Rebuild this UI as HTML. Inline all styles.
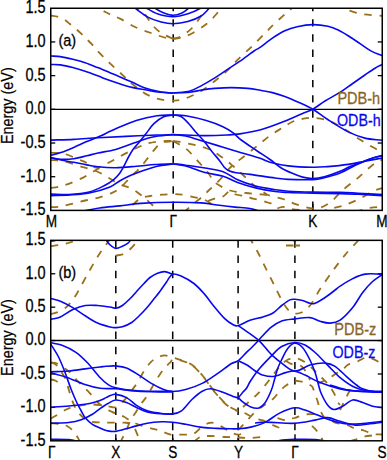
<!DOCTYPE html><html><head><meta charset="utf-8"><style>html,body{margin:0;padding:0;background:#fff;overflow:hidden;}svg{display:block;}text{font-family:"Liberation Sans",sans-serif;}</style></head><body>
<svg width="387" height="460" viewBox="0 0 387 460">
<defs>
<clipPath id="ca"><rect x="50.75" y="8.25" width="331.50" height="202.15"/></clipPath>
<clipPath id="cb"><rect x="50.75" y="240.35" width="331.50" height="200.45"/></clipPath>
</defs>
<line x1="50.75" y1="109.33" x2="382.25" y2="109.33" stroke="#000" stroke-width="1.4"/>
<line x1="50.75" y1="41.94" x2="55.25" y2="41.94" stroke="#000" stroke-width="1.3"/>
<line x1="382.25" y1="41.94" x2="377.75" y2="41.94" stroke="#000" stroke-width="1.3"/>
<line x1="50.75" y1="75.63" x2="55.25" y2="75.63" stroke="#000" stroke-width="1.3"/>
<line x1="382.25" y1="75.63" x2="377.75" y2="75.63" stroke="#000" stroke-width="1.3"/>
<line x1="50.75" y1="109.33" x2="55.25" y2="109.33" stroke="#000" stroke-width="1.3"/>
<line x1="382.25" y1="109.33" x2="377.75" y2="109.33" stroke="#000" stroke-width="1.3"/>
<line x1="50.75" y1="143.02" x2="55.25" y2="143.02" stroke="#000" stroke-width="1.3"/>
<line x1="382.25" y1="143.02" x2="377.75" y2="143.02" stroke="#000" stroke-width="1.3"/>
<line x1="50.75" y1="176.71" x2="55.25" y2="176.71" stroke="#000" stroke-width="1.3"/>
<line x1="382.25" y1="176.71" x2="377.75" y2="176.71" stroke="#000" stroke-width="1.3"/>
<text transform="translate(45.60,13.15) scale(0.785,1)" text-anchor="end" fill="#000" stroke="#000" stroke-width="0.3" font-size="18.5">1.5</text>
<text transform="translate(45.60,46.84) scale(0.785,1)" text-anchor="end" fill="#000" stroke="#000" stroke-width="0.3" font-size="18.5">1.0</text>
<text transform="translate(45.60,80.53) scale(0.785,1)" text-anchor="end" fill="#000" stroke="#000" stroke-width="0.3" font-size="18.5">0.5</text>
<text transform="translate(45.60,114.23) scale(0.785,1)" text-anchor="end" fill="#000" stroke="#000" stroke-width="0.3" font-size="18.5">0.0</text>
<text transform="translate(45.60,147.92) scale(0.785,1)" text-anchor="end" fill="#000" stroke="#000" stroke-width="0.3" font-size="18.5">-0.5</text>
<text transform="translate(45.60,181.61) scale(0.785,1)" text-anchor="end" fill="#000" stroke="#000" stroke-width="0.3" font-size="18.5">-1.0</text>
<text transform="translate(45.60,215.30) scale(0.785,1)" text-anchor="end" fill="#000" stroke="#000" stroke-width="0.3" font-size="18.5">-1.5</text>
<text transform="translate(51.50,227.20) scale(0.8,1)" text-anchor="middle" fill="#000" stroke="#000" stroke-width="0.3" font-size="17">M</text>
<text transform="translate(173.20,227.20) scale(0.8,1)" text-anchor="middle" fill="#000" stroke="#000" stroke-width="0.3" font-size="17">Γ</text>
<text transform="translate(312.80,227.20) scale(0.8,1)" text-anchor="middle" fill="#000" stroke="#000" stroke-width="0.3" font-size="17">K</text>
<text transform="translate(382.00,227.20) scale(0.8,1)" text-anchor="middle" fill="#000" stroke="#000" stroke-width="0.3" font-size="17">M</text>
<line x1="173.2" y1="210.4" x2="173.2" y2="203.9" stroke="#000" stroke-width="1.4"/>
<line x1="312.8" y1="210.4" x2="312.8" y2="203.9" stroke="#000" stroke-width="1.4"/>
<line x1="50.75" y1="340.57" x2="382.25" y2="340.57" stroke="#000" stroke-width="1.4"/>
<line x1="50.75" y1="273.76" x2="55.25" y2="273.76" stroke="#000" stroke-width="1.3"/>
<line x1="382.25" y1="273.76" x2="377.75" y2="273.76" stroke="#000" stroke-width="1.3"/>
<line x1="50.75" y1="307.17" x2="55.25" y2="307.17" stroke="#000" stroke-width="1.3"/>
<line x1="382.25" y1="307.17" x2="377.75" y2="307.17" stroke="#000" stroke-width="1.3"/>
<line x1="50.75" y1="340.57" x2="55.25" y2="340.57" stroke="#000" stroke-width="1.3"/>
<line x1="382.25" y1="340.57" x2="377.75" y2="340.57" stroke="#000" stroke-width="1.3"/>
<line x1="50.75" y1="373.98" x2="55.25" y2="373.98" stroke="#000" stroke-width="1.3"/>
<line x1="382.25" y1="373.98" x2="377.75" y2="373.98" stroke="#000" stroke-width="1.3"/>
<line x1="50.75" y1="407.39" x2="55.25" y2="407.39" stroke="#000" stroke-width="1.3"/>
<line x1="382.25" y1="407.39" x2="377.75" y2="407.39" stroke="#000" stroke-width="1.3"/>
<text transform="translate(45.60,245.25) scale(0.785,1)" text-anchor="end" fill="#000" stroke="#000" stroke-width="0.3" font-size="18.5">1.5</text>
<text transform="translate(45.60,278.66) scale(0.785,1)" text-anchor="end" fill="#000" stroke="#000" stroke-width="0.3" font-size="18.5">1.0</text>
<text transform="translate(45.60,312.07) scale(0.785,1)" text-anchor="end" fill="#000" stroke="#000" stroke-width="0.3" font-size="18.5">0.5</text>
<text transform="translate(45.60,345.47) scale(0.785,1)" text-anchor="end" fill="#000" stroke="#000" stroke-width="0.3" font-size="18.5">0.0</text>
<text transform="translate(45.60,378.88) scale(0.785,1)" text-anchor="end" fill="#000" stroke="#000" stroke-width="0.3" font-size="18.5">-0.5</text>
<text transform="translate(45.60,412.29) scale(0.785,1)" text-anchor="end" fill="#000" stroke="#000" stroke-width="0.3" font-size="18.5">-1.0</text>
<text transform="translate(45.60,445.70) scale(0.785,1)" text-anchor="end" fill="#000" stroke="#000" stroke-width="0.3" font-size="18.5">-1.5</text>
<text transform="translate(51.80,457.60) scale(0.8,1)" text-anchor="middle" fill="#000" stroke="#000" stroke-width="0.3" font-size="17">Γ</text>
<text transform="translate(115.80,457.60) scale(0.8,1)" text-anchor="middle" fill="#000" stroke="#000" stroke-width="0.3" font-size="17">X</text>
<text transform="translate(172.70,457.60) scale(0.8,1)" text-anchor="middle" fill="#000" stroke="#000" stroke-width="0.3" font-size="17">S</text>
<text transform="translate(238.50,457.60) scale(0.8,1)" text-anchor="middle" fill="#000" stroke="#000" stroke-width="0.3" font-size="17">Y</text>
<text transform="translate(295.00,457.60) scale(0.8,1)" text-anchor="middle" fill="#000" stroke="#000" stroke-width="0.3" font-size="17">Γ</text>
<text transform="translate(382.00,457.60) scale(0.8,1)" text-anchor="middle" fill="#000" stroke="#000" stroke-width="0.3" font-size="17">S</text>
<line x1="115.8" y1="440.8" x2="115.8" y2="434.3" stroke="#000" stroke-width="1.4"/>
<line x1="172.7" y1="440.8" x2="172.7" y2="434.3" stroke="#000" stroke-width="1.4"/>
<line x1="238.5" y1="440.8" x2="238.5" y2="434.3" stroke="#000" stroke-width="1.4"/>
<line x1="295" y1="440.8" x2="295" y2="434.3" stroke="#000" stroke-width="1.4"/>
<line x1="173.2" y1="8.25" x2="173.2" y2="210.4" stroke="#000" stroke-width="1.5" stroke-dasharray="7.4,7.8" stroke-dashoffset="4.3"/>
<line x1="312.8" y1="8.25" x2="312.8" y2="210.4" stroke="#000" stroke-width="1.5" stroke-dasharray="7.4,7.8" stroke-dashoffset="4.3"/>
<line x1="115.8" y1="240.35" x2="115.8" y2="440.8" stroke="#000" stroke-width="1.5" stroke-dasharray="7.4,7.8" stroke-dashoffset="0"/>
<line x1="172.7" y1="240.35" x2="172.7" y2="440.8" stroke="#000" stroke-width="1.5" stroke-dasharray="7.4,7.8" stroke-dashoffset="0"/>
<line x1="238.1" y1="240.35" x2="238.1" y2="440.8" stroke="#000" stroke-width="1.5" stroke-dasharray="7.4,7.8" stroke-dashoffset="0"/>
<line x1="294.9" y1="240.35" x2="294.9" y2="440.8" stroke="#000" stroke-width="1.5" stroke-dasharray="7.4,7.8" stroke-dashoffset="0"/>
<g clip-path="url(#ca)" fill="none" stroke-linejoin="round">
<path d="M50.75,15.50 C52.93,15.87 55.12,15.97 57.30,16.60 C59.47,17.23 61.70,18.07 63.80,19.30 C65.90,20.53 67.92,22.43 69.90,24.00 C71.88,25.57 73.77,27.05 75.70,28.70 C77.63,30.35 79.67,32.17 81.50,33.90 C83.33,35.63 84.98,37.38 86.70,39.10 C88.42,40.82 89.98,42.22 91.80,44.20 C93.62,46.18 94.57,47.80 97.60,51.00 C100.63,54.20 105.68,59.27 110.00,63.40 C114.32,67.53 119.77,72.35 123.50,75.80 C127.23,79.25 128.85,81.17 132.40,84.10 C135.95,87.03 140.32,90.88 144.80,93.40 C149.28,95.92 154.57,98.00 159.30,99.20 C164.03,100.40 169.42,100.53 173.20,100.60 C176.98,100.67 178.80,100.45 182.00,99.60 C185.20,98.75 189.00,97.05 192.40,95.50 C195.80,93.95 198.67,92.72 202.40,90.30 C206.13,87.88 210.67,84.27 214.80,81.00 C218.93,77.73 223.42,74.23 227.20,70.70 C230.98,67.17 233.37,63.87 237.50,59.80 C241.63,55.73 247.52,50.62 252.00,46.30 C256.48,41.98 261.00,37.33 264.40,33.90 C267.80,30.47 269.00,28.97 272.40,25.70 C275.80,22.43 281.53,17.23 284.80,14.30 C288.07,11.37 289.97,9.98 292.00,8.10 C294.03,6.22 295.33,4.70 297.00,3.00" stroke="#9a7018" stroke-width="1.8" stroke-dasharray="7.5,7.7"/>
<path d="M336.00,4.00 C338.70,5.53 341.23,7.28 344.10,8.60 C346.97,9.92 349.88,10.93 353.20,11.90 C356.52,12.87 359.16,13.73 364.00,14.40 C368.84,15.07 376.17,15.40 382.25,15.90" stroke="#9a7018" stroke-width="1.8" stroke-dasharray="7.5,7.7"/>
<path d="M90.00,4.00 C92.53,5.37 94.95,6.73 97.60,8.10 C100.25,9.47 103.50,11.00 105.90,12.20 C108.30,13.40 109.65,14.23 112.00,15.30 C114.35,16.37 116.17,16.65 120.00,18.60 C123.83,20.55 129.83,24.60 135.00,27.00 C140.17,29.40 145.83,31.17 151.00,33.00 C156.17,34.83 162.30,37.03 166.00,38.00 C169.70,38.97 170.80,38.53 173.20,38.80" stroke="#9a7018" stroke-width="1.8" stroke-dasharray="7.5,7.7"/>
<path d="M134.00,4.00 C135.33,5.50 136.25,6.87 138.00,8.50 C139.75,10.13 141.95,10.88 144.50,13.80 C147.05,16.72 150.38,22.72 153.30,26.00 C156.22,29.28 158.68,31.37 162.00,33.50 C165.32,35.63 169.47,37.03 173.20,38.80" stroke="#9a7018" stroke-width="1.8" stroke-dasharray="7.5,7.7"/>
<path d="M173.20,38.80 C175.47,38.53 176.73,38.97 180.00,38.00 C183.27,37.03 188.35,35.37 192.80,33.00 C197.25,30.63 203.05,26.63 206.70,23.80 C210.35,20.97 212.48,18.38 214.70,16.00 C216.92,13.62 218.45,11.50 220.00,9.50 C221.55,7.50 222.67,5.83 224.00,4.00" stroke="#9a7018" stroke-width="1.8" stroke-dasharray="7.5,7.7"/>
<path d="M173.20,38.80 C175.80,38.03 177.87,38.30 181.00,36.50 C184.13,34.70 188.55,31.58 192.00,28.00 C195.45,24.42 199.37,18.67 201.70,15.00 C204.03,11.33 204.57,9.00 206.00,6.00" stroke="#9a7018" stroke-width="1.8" stroke-dasharray="7.5,7.7"/>
<path d="M50.75,152.60 C55.43,153.07 60.09,152.82 64.80,154.00 C69.51,155.18 75.47,158.28 79.00,159.70 C82.53,161.12 83.50,161.25 86.00,162.50 C88.50,163.75 91.67,166.48 94.00,167.20 C96.33,167.92 97.67,167.50 100.00,166.80 C102.33,166.10 104.33,164.90 108.00,163.00 C111.67,161.10 117.33,157.87 122.00,155.40 C126.67,152.93 131.55,150.23 136.00,148.20 C140.45,146.17 144.50,144.37 148.70,143.20 C152.90,142.03 157.12,141.57 161.20,141.20 C165.28,140.83 169.20,141.07 173.20,141.00" stroke="#9a7018" stroke-width="1.8" stroke-dasharray="7.5,7.7"/>
<path d="M50.75,160.00 C52.83,160.13 53.96,159.95 57.00,160.40 C60.04,160.85 64.67,161.57 69.00,162.70 C73.33,163.83 78.50,165.82 83.00,167.20 C87.50,168.58 91.67,169.20 96.00,171.00 C100.33,172.80 105.00,175.75 109.00,178.00 C113.00,180.25 116.10,182.67 120.00,184.50 C123.90,186.33 128.27,186.72 132.40,189.00 C136.53,191.28 140.67,194.77 144.80,198.20 C148.93,201.63 154.17,206.80 157.20,209.60 C160.23,212.40 161.07,213.20 163.00,215.00" stroke="#9a7018" stroke-width="1.8" stroke-dasharray="7.5,7.7"/>
<path d="M50.75,187.90 C53.27,187.57 55.31,187.58 58.30,186.90 C61.29,186.22 64.57,185.35 68.70,183.80 C72.83,182.25 78.63,179.85 83.10,177.60 C87.57,175.35 92.02,172.40 95.50,170.30 C98.98,168.20 101.17,166.77 104.00,165.00" stroke="#9a7018" stroke-width="1.8" stroke-dasharray="7.5,7.7"/>
<path d="M50.75,207.10 C53.17,207.00 55.01,207.22 58.00,206.80 C60.99,206.38 64.53,205.57 68.70,204.60 C72.87,203.63 78.12,202.13 83.00,201.00 C87.88,199.87 93.17,199.15 98.00,197.80 C102.83,196.45 108.33,194.53 112.00,192.90 C115.67,191.27 117.67,189.82 120.00,188.00 C122.33,186.18 124.17,183.92 126.00,182.00 C127.83,180.08 129.25,178.25 131.00,176.50 C132.75,174.75 134.58,173.42 136.50,171.50 C138.42,169.58 139.77,168.33 142.50,165.00 C145.23,161.67 149.78,155.13 152.90,151.50 C156.02,147.87 157.82,144.95 161.20,143.20 C164.58,141.45 169.20,141.73 173.20,141.00" stroke="#9a7018" stroke-width="1.8" stroke-dasharray="7.5,7.7"/>
<path d="M121.00,215.00 C123.47,213.07 126.42,210.92 128.40,209.20 C130.38,207.48 130.85,206.53 132.90,204.70 C134.95,202.87 137.85,199.65 140.70,198.20 C143.55,196.75 146.57,196.58 150.00,196.00 C153.43,195.42 157.43,195.02 161.30,194.70 C165.17,194.38 169.75,194.12 173.20,194.10 C176.65,194.08 178.20,194.02 182.00,194.60 C185.80,195.18 192.33,196.77 196.00,197.60 C199.67,198.43 201.67,198.70 204.00,199.60 C206.33,200.50 208.33,201.60 210.00,203.00 C211.67,204.40 212.67,206.17 214.00,208.00 C215.33,209.83 216.67,212.00 218.00,214.00" stroke="#9a7018" stroke-width="1.8" stroke-dasharray="7.5,7.7"/>
<path d="M173.20,141.00 C175.97,141.40 177.70,141.48 181.50,142.20 C185.30,142.92 191.33,144.08 196.00,145.30 C200.67,146.52 205.00,147.38 209.50,149.50 C214.00,151.62 219.08,155.25 223.00,158.00 C226.92,160.75 229.67,163.17 233.00,166.00 C236.33,168.83 239.50,171.75 243.00,175.00 C246.50,178.25 250.83,182.83 254.00,185.50 C257.17,188.17 259.67,189.42 262.00,191.00 C264.33,192.58 264.50,193.67 268.00,195.00 C271.50,196.33 278.67,197.57 283.00,199.00 C287.33,200.43 290.33,202.27 294.00,203.60 C297.67,204.93 301.87,206.18 305.00,207.00 C308.13,207.82 310.13,208.42 312.80,208.50 C315.47,208.58 317.85,208.72 321.00,207.50 C324.15,206.28 328.12,204.07 331.70,201.20 C335.28,198.33 338.12,194.18 342.50,190.30 C346.88,186.42 353.08,182.03 358.00,177.90 C362.92,173.77 367.96,168.57 372.00,165.50 C376.04,162.43 378.83,161.50 382.25,159.50" stroke="#9a7018" stroke-width="1.8" stroke-dasharray="7.5,7.7"/>
<path d="M173.20,141.00 C177.37,143.47 182.23,145.78 185.70,148.40 C189.17,151.02 191.25,153.77 194.00,156.70 C196.75,159.63 199.80,163.25 202.20,166.00 C204.60,168.75 206.60,170.87 208.40,173.20 C210.20,175.53 211.40,178.10 213.00,180.00 C214.60,181.90 215.17,182.85 218.00,184.60 C220.83,186.35 225.33,189.10 230.00,190.50 C234.67,191.90 240.83,192.35 246.00,193.00 C251.17,193.65 257.00,193.98 261.00,194.40 C265.00,194.82 267.00,195.13 270.00,195.50" stroke="#9a7018" stroke-width="1.8" stroke-dasharray="7.5,7.7"/>
<path d="M184.00,213.00 C185.20,211.63 185.95,210.48 187.60,208.90 C189.25,207.32 191.27,205.70 193.90,203.50 C196.53,201.30 200.95,197.87 203.40,195.70 C205.85,193.53 206.83,192.20 208.60,190.50 C210.37,188.80 212.02,187.42 214.00,185.50 C215.98,183.58 217.62,182.17 220.50,179.00 C223.38,175.83 227.10,170.47 231.30,166.50 C235.50,162.53 241.17,158.82 245.70,155.20 C250.23,151.58 254.48,148.03 258.50,144.80 C262.52,141.57 265.80,138.65 269.80,135.80 C273.80,132.95 278.72,130.05 282.50,127.70 C286.28,125.35 289.25,123.15 292.50,121.70 C295.75,120.25 298.62,119.65 302.00,119.00 C305.38,118.35 308.52,117.55 312.80,117.80 C317.08,118.05 322.47,118.67 327.70,120.50 C332.93,122.33 338.70,125.53 344.20,128.80 C349.70,132.07 354.36,136.15 360.70,140.10 C367.04,144.05 375.07,148.37 382.25,152.50" stroke="#9a7018" stroke-width="1.8" stroke-dasharray="7.5,7.7"/>
<path d="M208.00,201.00 C210.67,200.00 213.50,198.75 216.00,198.00 C218.50,197.25 220.67,197.67 223.00,196.50 C225.33,195.33 227.83,191.33 230.00,191.00 C232.17,190.67 233.33,193.62 236.00,194.50 C238.67,195.38 243.20,195.62 246.00,196.30 C248.80,196.98 250.37,197.95 252.80,198.60 C255.23,199.25 258.13,199.55 260.60,200.20 C263.07,200.85 265.53,201.87 267.60,202.50 C269.67,203.13 271.43,203.08 273.00,204.00 C274.57,204.92 275.33,207.53 277.00,208.00 C278.67,208.47 280.83,206.68 283.00,206.80 C285.17,206.92 287.17,208.17 290.00,208.70 C292.83,209.23 296.20,209.62 300.00,210.00 C303.80,210.38 308.53,210.67 312.80,211.00" stroke="#9a7018" stroke-width="1.8" stroke-dasharray="7.5,7.7"/>
<path d="M320.00,213.00 C322.33,211.90 323.25,210.90 327.00,209.70 C330.75,208.50 337.33,207.48 342.50,205.80 C347.67,204.12 352.83,202.05 358.00,199.60 C363.17,197.15 369.46,193.03 373.50,191.10 C377.54,189.17 379.33,189.03 382.25,188.00" stroke="#9a7018" stroke-width="1.8" stroke-dasharray="7.5,7.7"/>
<path d="M355.00,212.00 C358.33,211.00 361.92,209.77 365.00,209.00 C368.08,208.23 370.62,207.73 373.50,207.40 C376.38,207.07 379.33,207.13 382.25,207.00" stroke="#9a7018" stroke-width="1.8" stroke-dasharray="7.5,7.7"/>
<path d="M50.75,56.00 C53.97,56.20 56.73,56.05 60.40,56.60 C64.08,57.15 68.67,58.27 72.80,59.30 C76.93,60.33 81.07,61.42 85.20,62.80 C89.33,64.18 93.47,65.95 97.60,67.60 C101.73,69.25 105.87,70.98 110.00,72.70 C114.13,74.42 118.57,76.25 122.40,77.90 C126.23,79.55 129.23,80.92 133.00,82.60 C136.77,84.28 140.50,86.47 145.00,88.00 C149.50,89.53 155.30,90.97 160.00,91.80 C164.70,92.63 168.80,92.60 173.20,93.00" stroke="#0808f0" stroke-width="1.6"/>
<path d="M50.75,64.50 C53.97,64.63 56.73,64.38 60.40,64.90 C64.08,65.42 68.67,66.53 72.80,67.60 C76.93,68.67 81.07,69.93 85.20,71.30 C89.33,72.67 93.47,74.25 97.60,75.80 C101.73,77.35 105.87,79.12 110.00,80.60 C114.13,82.08 118.57,83.53 122.40,84.70 C126.23,85.87 129.23,86.75 133.00,87.60 C136.77,88.45 140.50,89.02 145.00,89.80 C149.50,90.58 155.30,91.77 160.00,92.30 C164.70,92.83 168.80,92.77 173.20,93.00" stroke="#0808f0" stroke-width="1.6"/>
<path d="M173.20,93.00 C178.80,92.30 185.13,92.22 190.00,90.90 C194.87,89.58 198.27,87.27 202.40,85.10 C206.53,82.93 210.67,80.48 214.80,77.90 C218.93,75.32 223.07,72.35 227.20,69.60 C231.33,66.85 235.13,64.50 239.60,61.40 C244.07,58.30 250.60,53.33 254.00,51.00 C257.40,48.67 256.93,49.55 260.00,47.40 C263.07,45.25 268.27,40.87 272.40,38.10 C276.53,35.33 280.67,32.70 284.80,30.80 C288.93,28.90 292.53,27.73 297.20,26.70 C301.87,25.67 307.68,24.67 312.80,24.60 C317.92,24.53 323.58,25.35 327.90,26.30 C332.22,27.25 335.08,28.57 338.70,30.30 C342.32,32.03 345.98,34.43 349.60,36.70 C353.22,38.97 356.78,41.50 360.40,43.90 C364.02,46.30 367.66,49.12 371.30,51.10 C374.94,53.08 378.60,54.23 382.25,55.80" stroke="#0808f0" stroke-width="1.6"/>
<path d="M173.20,93.00 C178.80,92.73 185.13,92.72 190.00,92.20 C194.87,91.68 198.27,90.53 202.40,89.90 C206.53,89.27 209.98,88.78 214.80,88.40 C219.62,88.02 225.78,87.60 231.30,87.60 C236.82,87.60 243.07,87.95 247.90,88.40 C252.73,88.85 256.22,89.60 260.30,90.30 C264.38,91.00 268.32,91.57 272.40,92.60 C276.48,93.63 280.67,94.98 284.80,96.50 C288.93,98.02 292.53,99.58 297.20,101.70 C301.87,103.82 307.72,106.23 312.80,109.20 C317.88,112.17 321.78,115.72 327.70,119.50 C333.62,123.28 342.10,128.80 348.30,131.90 C354.50,135.00 359.24,136.70 364.90,138.10 C370.56,139.50 376.47,139.57 382.25,140.30" stroke="#0808f0" stroke-width="1.6"/>
<path d="M173.20,134.60 C177.37,134.73 180.18,134.83 185.70,135.00 C191.22,135.17 199.42,135.60 206.30,135.60 C213.18,135.60 221.38,135.28 227.00,135.00 C232.62,134.72 234.38,134.77 240.00,133.90 C245.62,133.03 253.82,131.68 260.70,129.80 C267.58,127.92 274.42,125.28 281.30,122.60 C288.18,119.92 296.75,115.93 302.00,113.70 C307.25,111.47 308.97,111.32 312.80,109.20 C316.63,107.08 320.47,103.80 325.00,101.00 C329.53,98.20 335.50,95.23 340.00,92.40 C344.50,89.57 347.85,86.90 352.00,84.00 C356.15,81.10 361.07,77.63 364.90,75.00 C368.73,72.37 372.11,69.95 375.00,68.20 C377.89,66.45 379.83,65.73 382.25,64.50" stroke="#0808f0" stroke-width="1.6"/>
<path d="M50.75,155.20 C54.13,154.33 57.06,153.90 60.90,152.60 C64.74,151.30 69.48,149.23 73.80,147.40 C78.12,145.57 82.77,143.32 86.80,141.60 C90.83,139.88 93.18,139.23 98.00,137.10 C102.82,134.97 109.32,131.57 115.70,128.80 C122.08,126.03 129.42,122.68 136.30,120.50 C143.18,118.32 150.85,116.62 157.00,115.70 C163.15,114.78 167.80,115.23 173.20,115.00" stroke="#0808f0" stroke-width="1.6"/>
<path d="M50.75,194.10 C56.73,194.23 62.28,194.85 68.70,194.50 C75.12,194.15 83.25,193.53 89.30,192.00 C95.35,190.47 101.08,187.23 105.00,185.30 C108.92,183.37 110.52,182.18 112.80,180.40 C115.08,178.62 116.83,177.00 118.70,174.60 C120.57,172.20 122.37,168.93 124.00,166.00 C125.63,163.07 127.00,159.75 128.50,157.00 C130.00,154.25 131.37,151.78 133.00,149.50 C134.63,147.22 136.12,145.97 138.30,143.30 C140.48,140.63 143.50,136.77 146.10,133.50 C148.70,130.23 150.97,126.48 153.90,123.70 C156.83,120.92 160.48,118.25 163.70,116.80 C166.92,115.35 170.03,115.60 173.20,115.00" stroke="#0808f0" stroke-width="1.6"/>
<path d="M50.75,140.10 C58.43,139.87 65.92,139.78 73.80,139.40 C81.67,139.02 89.30,138.30 98.00,137.80 C106.70,137.30 116.17,136.87 126.00,136.40 C135.83,135.93 149.13,135.30 157.00,135.00 C164.87,134.70 167.80,134.73 173.20,134.60" stroke="#0808f0" stroke-width="1.6"/>
<path d="M50.75,157.80 C54.13,158.30 57.06,159.15 60.90,159.30 C64.74,159.45 69.48,159.28 73.80,158.70 C78.12,158.12 82.77,156.75 86.80,155.80 C90.83,154.85 93.18,154.07 98.00,153.00 C102.82,151.93 109.32,151.20 115.70,149.40 C122.08,147.60 130.10,144.27 136.30,142.20 C142.50,140.13 146.75,138.27 152.90,137.00 C159.05,135.73 166.43,135.40 173.20,134.60" stroke="#0808f0" stroke-width="1.6"/>
<path d="M50.75,157.80 C54.13,158.53 57.06,159.25 60.90,160.00 C64.74,160.75 69.48,161.48 73.80,162.30 C78.12,163.12 82.77,164.15 86.80,164.90 C90.83,165.65 93.18,166.33 98.00,166.80 C102.82,167.27 109.32,167.78 115.70,167.70 C122.08,167.62 129.75,166.83 136.30,166.30 C142.85,165.77 148.85,164.92 155.00,164.50 C161.15,164.08 167.13,164.03 173.20,163.80" stroke="#0808f0" stroke-width="1.6"/>
<path d="M50.75,195.60 C57.17,195.40 63.58,195.43 70.00,195.00 C76.42,194.57 82.63,194.35 89.30,193.00 C95.97,191.65 104.88,188.95 110.00,186.90 C115.12,184.85 116.62,182.60 120.00,180.70 C123.38,178.80 126.85,177.05 130.30,175.50 C133.75,173.95 136.22,172.95 140.70,171.40 C145.18,169.85 151.78,167.43 157.20,166.20 C162.62,164.97 167.87,164.73 173.20,164.00" stroke="#0808f0" stroke-width="1.6"/>
<path d="M70.00,214.00 C73.00,213.33 74.05,213.00 79.00,212.00 C83.95,211.00 92.87,209.02 99.70,208.00 C106.53,206.98 113.17,206.67 120.00,205.90 C126.83,205.13 131.83,204.02 140.70,203.40 C149.57,202.78 163.12,202.28 173.20,202.20 C183.28,202.12 193.52,202.38 201.20,202.90 C208.88,203.42 213.67,204.60 219.30,205.30 C224.93,206.00 229.88,206.57 235.00,207.10 C240.12,207.63 245.50,207.68 250.00,208.50 C254.50,209.32 258.00,210.83 262.00,212.00" stroke="#0808f0" stroke-width="1.6"/>
<path d="M173.20,115.00 C177.37,115.23 180.18,114.78 185.70,115.70 C191.22,116.62 200.10,118.67 206.30,120.50 C212.50,122.33 218.42,124.63 222.90,126.70 C227.38,128.77 230.15,130.68 233.20,132.90 C236.25,135.12 237.32,137.07 241.20,140.00 C245.08,142.93 251.70,147.25 256.50,150.50 C261.30,153.75 265.93,156.63 270.00,159.50 C274.07,162.37 277.28,165.43 280.90,167.70 C284.52,169.97 288.08,171.53 291.70,173.10 C295.32,174.67 299.08,176.20 302.60,177.10 C306.12,178.00 309.18,178.57 312.80,178.50 C316.42,178.43 319.77,177.90 324.30,176.70 C328.83,175.50 335.72,173.00 340.00,171.30 C344.28,169.60 346.88,167.80 350.00,166.50 C353.12,165.20 355.37,164.75 358.70,163.50 C362.03,162.25 366.07,160.35 370.00,159.00 C373.93,157.65 378.17,156.60 382.25,155.40" stroke="#0808f0" stroke-width="1.6"/>
<path d="M173.20,115.00 C175.77,115.50 178.33,115.08 180.90,116.50 C183.47,117.92 186.02,120.78 188.60,123.50 C191.18,126.22 193.82,129.83 196.40,132.80 C198.98,135.77 201.52,138.20 204.10,141.30 C206.68,144.40 209.32,148.17 211.90,151.40 C214.48,154.63 217.50,158.02 219.60,160.70 C221.70,163.38 222.93,165.82 224.50,167.50 C226.07,169.18 227.08,169.92 229.00,170.80 C230.92,171.68 232.47,172.20 236.00,172.80 C239.53,173.40 243.70,173.53 250.20,174.40 C256.70,175.27 268.68,177.17 275.00,178.00 C281.32,178.83 281.80,179.13 288.10,179.40 C294.40,179.67 306.77,179.87 312.80,179.60 C318.83,179.33 319.77,178.88 324.30,177.80 C328.83,176.72 334.38,175.40 340.00,173.10 C345.62,170.80 352.42,166.55 358.00,164.00 C363.58,161.45 369.46,159.20 373.50,157.80 C377.54,156.40 379.33,156.33 382.25,155.60" stroke="#0808f0" stroke-width="1.6"/>
<path d="M173.20,134.60 C177.37,135.07 180.40,134.80 185.70,136.00 C191.00,137.20 198.77,139.93 205.00,141.80 C211.23,143.67 217.07,145.38 223.10,147.20 C229.13,149.02 235.17,150.88 241.20,152.70 C247.23,154.52 254.50,156.52 259.30,158.10 C264.10,159.68 265.20,160.90 270.00,162.20 C274.80,163.50 280.97,165.05 288.10,165.90 C295.23,166.75 306.20,167.18 312.80,167.30 C319.40,167.42 321.78,167.08 327.70,166.60 C333.62,166.12 342.10,165.30 348.30,164.40 C354.50,163.50 359.24,162.27 364.90,161.20 C370.56,160.13 376.47,159.07 382.25,158.00" stroke="#0808f0" stroke-width="1.6"/>
<path d="M173.20,163.70 C177.37,164.20 180.40,164.48 185.70,165.20 C191.00,165.92 198.77,166.92 205.00,168.00 C211.23,169.08 217.67,169.73 223.10,171.70 C228.53,173.67 232.18,177.40 237.60,179.80 C243.02,182.20 249.37,184.45 255.60,186.10 C261.83,187.75 269.58,188.85 275.00,189.70 C280.42,190.55 281.80,190.80 288.10,191.20 C294.40,191.60 304.15,191.92 312.80,192.10 C321.45,192.28 332.47,192.12 340.00,192.30 C347.53,192.48 350.96,192.82 358.00,193.20 C365.04,193.58 374.17,194.13 382.25,194.60" stroke="#0808f0" stroke-width="1.6"/>
<path d="M173.20,164.00 C177.37,164.67 180.40,164.57 185.70,166.00 C191.00,167.43 198.77,170.90 205.00,172.60 C211.23,174.30 217.67,174.55 223.10,176.20 C228.53,177.85 232.18,180.55 237.60,182.50 C243.02,184.45 249.37,186.40 255.60,187.90 C261.83,189.40 269.58,190.73 275.00,191.50 C280.42,192.27 281.80,192.22 288.10,192.50 C294.40,192.78 304.15,193.02 312.80,193.20 C321.45,193.38 332.47,193.42 340.00,193.60 C347.53,193.78 350.96,193.97 358.00,194.30 C365.04,194.63 374.17,195.17 382.25,195.60" stroke="#0808f0" stroke-width="1.6"/>
<path d="M135.60,8.70 C139.67,11.50 143.55,14.88 147.80,17.10 C152.05,19.32 156.87,20.88 161.10,22.00 C165.33,23.12 168.75,23.87 173.20,23.80 C177.65,23.73 183.15,22.90 187.80,21.60 C192.45,20.30 197.58,18.15 201.10,16.00 C204.62,13.85 206.30,11.13 208.90,8.70" stroke="#0808f0" stroke-width="1.6"/>
<path d="M145.00,6.00 C145.67,6.83 144.83,7.17 147.00,8.50 C149.17,9.83 153.63,12.63 158.00,14.00 C162.37,15.37 168.20,16.73 173.20,16.70 C178.20,16.67 183.53,15.17 188.00,13.80 C192.47,12.43 197.67,9.80 200.00,8.50 C202.33,7.20 201.33,6.83 202.00,6.00" stroke="#0808f0" stroke-width="1.6"/>
<path d="M153.00,6.00 C153.83,6.83 153.67,7.33 155.50,8.50 C157.33,9.67 161.05,11.87 164.00,13.00 C166.95,14.13 170.20,15.30 173.20,15.30 C176.20,15.30 179.48,14.13 182.00,13.00 C184.52,11.87 186.97,9.67 188.30,8.50 C189.63,7.33 189.43,6.83 190.00,6.00" stroke="#0808f0" stroke-width="1.6"/>
</g>
<g clip-path="url(#cb)" fill="none" stroke-linejoin="round">
<path d="M50.75,246.20 C53.27,245.87 55.76,245.63 58.30,245.20 C60.84,244.77 63.58,244.22 66.00,243.60 C68.42,242.98 70.80,242.35 72.80,241.50 C74.80,240.65 76.27,239.50 78.00,238.50" stroke="#9a7018" stroke-width="1.8" stroke-dasharray="7.5,7.7"/>
<path d="M50.75,313.80 C52.60,313.43 54.01,313.57 56.30,312.70 C58.59,311.83 62.10,310.32 64.50,308.60 C66.90,306.88 68.78,304.67 70.70,302.40 C72.62,300.13 74.28,297.73 76.00,295.00 C77.72,292.27 78.78,290.00 81.00,286.00 C83.22,282.00 86.53,275.88 89.30,271.00 C92.07,266.12 95.18,260.63 97.60,256.70 C100.02,252.77 102.07,249.82 103.80,247.40 C105.53,244.98 106.97,243.77 108.00,242.20 C109.03,240.63 109.33,239.40 110.00,238.00" stroke="#9a7018" stroke-width="1.8" stroke-dasharray="7.5,7.7"/>
<path d="M50.75,362.50 C52.83,362.83 54.52,362.43 57.00,363.50 C59.48,364.57 63.27,367.23 65.60,368.90 C67.93,370.57 68.77,371.23 71.00,373.50 C73.23,375.77 75.83,379.20 79.00,382.50 C82.17,385.80 86.75,389.88 90.00,393.30 C93.25,396.72 95.83,400.45 98.50,403.00 C101.17,405.55 103.75,407.12 106.00,408.60 C108.25,410.08 110.37,411.08 112.00,411.90 C113.63,412.72 114.40,412.95 115.80,413.50 C117.20,414.05 118.95,414.62 120.40,415.20 C121.85,415.78 122.78,416.03 124.50,417.00 C126.22,417.97 128.47,419.78 130.70,421.00 C132.93,422.22 135.15,423.23 137.90,424.30 C140.65,425.37 144.27,426.55 147.20,427.40 C150.13,428.25 153.08,428.72 155.50,429.40 C157.92,430.08 159.28,430.67 161.70,431.50 C164.12,432.33 168.18,433.88 170.00,434.40 C171.82,434.92 169.98,434.57 172.60,434.60 C175.22,434.63 182.15,434.77 185.70,434.60 C189.25,434.43 191.50,434.63 193.90,433.60 C196.30,432.57 197.68,430.13 200.10,428.40 C202.52,426.67 205.98,424.07 208.40,423.20 C210.82,422.33 212.18,422.50 214.60,423.20 C217.02,423.90 220.15,425.85 222.90,427.40 C225.65,428.95 228.55,431.30 231.10,432.50 C233.65,433.70 235.88,434.60 238.20,434.60 C240.52,434.60 242.73,433.20 245.00,432.50" stroke="#9a7018" stroke-width="1.8" stroke-dasharray="7.5,7.7"/>
<path d="M50.75,362.50 C52.17,363.00 53.62,363.08 55.00,364.00 C56.38,364.92 57.83,366.50 59.00,368.00 C60.17,369.50 60.90,371.17 62.00,373.00 C63.10,374.83 64.60,376.67 65.60,379.00 C66.60,381.33 66.93,383.50 68.00,387.00 C69.07,390.50 70.42,395.93 72.00,400.00 C73.58,404.07 75.33,408.23 77.50,411.40 C79.67,414.57 82.58,417.27 85.00,419.00 C87.42,420.73 89.38,421.22 92.00,421.80 C94.62,422.38 98.03,422.35 100.70,422.50 C103.37,422.65 105.48,422.68 108.00,422.70 C110.52,422.72 113.05,422.60 115.80,422.60 C118.55,422.60 122.13,422.55 124.50,422.70 C126.87,422.85 128.42,422.78 130.00,423.50 C131.58,424.22 132.83,425.32 134.00,427.00 C135.17,428.68 136.00,431.27 137.00,433.60 C138.00,435.93 139.00,438.53 140.00,441.00" stroke="#9a7018" stroke-width="1.8" stroke-dasharray="7.5,7.7"/>
<path d="M50.75,379.50 C52.17,379.83 53.46,379.83 55.00,380.50 C56.54,381.17 58.33,382.50 60.00,383.50" stroke="#9a7018" stroke-width="1.8" stroke-dasharray="7.5,7.7"/>
<path d="M50.75,418.50 C52.30,417.67 53.39,417.18 55.40,416.00 C57.41,414.82 60.65,412.63 62.80,411.40 C64.95,410.17 65.43,409.58 68.30,408.60 C71.17,407.62 76.05,406.18 80.00,405.50 C83.95,404.82 88.67,404.58 92.00,404.50 C95.33,404.42 97.00,404.63 100.00,405.00 C103.00,405.37 107.37,406.37 110.00,406.70 C112.63,407.03 113.38,408.12 115.80,407.00 C118.22,405.88 122.02,402.55 124.50,400.00 C126.98,397.45 128.63,394.47 130.70,391.70 C132.77,388.93 134.67,386.85 136.90,383.40 C139.13,379.95 141.70,374.62 144.10,371.00 C146.50,367.38 149.07,363.93 151.30,361.70 C153.53,359.47 155.25,358.65 157.50,357.60 C159.75,356.55 162.28,355.42 164.80,355.40 C167.32,355.38 170.15,356.80 172.60,357.50 C175.05,358.20 176.28,358.38 179.50,359.60 C182.72,360.82 188.12,362.22 191.90,364.80 C195.68,367.38 199.45,372.00 202.20,375.10 C204.95,378.20 206.33,380.63 208.40,383.40 C210.47,386.17 212.67,389.30 214.60,391.70 C216.53,394.10 217.93,395.58 220.00,397.80 C222.07,400.02 224.45,403.00 227.00,405.00 C229.55,407.00 233.43,408.83 235.30,409.80 C237.17,410.77 236.67,410.27 238.20,410.80 C239.73,411.33 242.42,412.10 244.50,413.00 C246.58,413.90 248.30,415.15 250.70,416.20 C253.10,417.25 256.50,418.45 258.90,419.30 C261.30,420.15 263.03,420.45 265.10,421.30 C267.17,422.15 269.23,423.45 271.30,424.40 C273.37,425.35 275.38,426.07 277.50,427.00 C279.62,427.93 281.83,429.00 284.00,430.00" stroke="#9a7018" stroke-width="1.8" stroke-dasharray="7.5,7.7"/>
<path d="M50.75,423.00 C53.83,423.43 57.23,423.77 60.00,424.30 C62.77,424.83 65.08,424.97 67.40,426.20 C69.72,427.43 72.20,429.85 73.90,431.70 C75.60,433.55 76.58,435.58 77.60,437.30 C78.62,439.02 79.20,440.43 80.00,442.00" stroke="#9a7018" stroke-width="1.8" stroke-dasharray="7.5,7.7"/>
<path d="M115.80,255.60 C118.00,255.17 120.27,255.15 122.40,254.30 C124.53,253.45 126.70,252.00 128.60,250.50 C130.50,249.00 132.40,246.88 133.80,245.30 C135.20,243.72 136.13,242.38 137.00,241.00 C137.87,239.62 138.33,238.33 139.00,237.00" stroke="#9a7018" stroke-width="1.8" stroke-dasharray="7.5,7.7"/>
<path d="M120.00,443.00 C122.00,439.00 124.22,434.83 126.00,431.00 C127.78,427.17 129.03,423.17 130.70,420.00 C132.37,416.83 134.28,414.67 136.00,412.00 C137.72,409.33 139.13,406.70 141.00,404.00 C142.87,401.30 144.78,399.58 147.20,395.80 C149.62,392.02 152.75,385.77 155.50,381.30 C158.25,376.83 161.28,372.10 163.70,369.00 C166.12,365.90 168.52,364.20 170.00,362.70 C171.48,361.20 171.02,360.47 172.60,360.00 C174.18,359.53 176.28,359.05 179.50,359.90 C182.72,360.75 188.12,362.52 191.90,365.10 C195.68,367.68 199.45,372.30 202.20,375.40 C204.95,378.50 206.33,380.93 208.40,383.70 C210.47,386.47 212.67,389.60 214.60,392.00 C216.53,394.40 217.93,395.88 220.00,398.10 C222.07,400.32 224.45,403.30 227.00,405.30 C229.55,407.30 233.43,409.13 235.30,410.10 C237.17,411.07 237.23,410.77 238.20,411.10" stroke="#9a7018" stroke-width="1.8" stroke-dasharray="7.5,7.7"/>
<path d="M193.90,442.00 C195.97,440.33 197.42,438.00 200.10,437.00 C202.78,436.00 205.85,436.00 210.00,436.00 C214.15,436.00 220.30,436.75 225.00,437.00 C229.70,437.25 234.03,437.33 238.20,437.50 C242.37,437.67 246.03,438.08 250.00,438.00 C253.97,437.92 258.00,437.33 262.00,437.00" stroke="#9a7018" stroke-width="1.8" stroke-dasharray="7.5,7.7"/>
<path d="M249.00,237.00 C249.57,237.90 249.38,237.45 250.70,239.70 C252.02,241.95 254.83,246.63 256.90,250.50 C258.97,254.37 261.03,258.77 263.10,262.90 C265.17,267.03 267.23,271.17 269.30,275.30 C271.37,279.43 273.43,283.57 275.50,287.70 C277.57,291.83 279.78,296.63 281.70,300.10 C283.62,303.57 285.45,306.47 287.00,308.50 C288.55,310.53 289.72,311.47 291.00,312.30 C292.28,313.13 293.20,313.38 294.70,313.50 C296.20,313.62 298.28,313.50 300.00,313.00 C301.72,312.50 303.33,311.75 305.00,310.50 C306.67,309.25 308.33,307.58 310.00,305.50 C311.67,303.42 313.32,300.75 315.00,298.00 C316.68,295.25 317.17,293.48 320.10,289.00 C323.03,284.52 328.43,276.80 332.60,271.10 C336.77,265.40 340.72,260.02 345.10,254.80 C349.48,249.58 356.25,242.77 358.90,239.80 C361.55,236.83 360.30,237.93 361.00,237.00" stroke="#9a7018" stroke-width="1.8" stroke-dasharray="7.5,7.7"/>
<path d="M238.20,430.00 C240.97,427.10 243.53,424.47 246.50,421.30 C249.47,418.13 252.75,413.88 256.00,411.00 C259.25,408.12 263.10,406.07 266.00,404.00 C268.90,401.93 271.07,400.77 273.40,398.60 C275.73,396.43 277.90,393.18 280.00,391.00 C282.10,388.82 283.55,387.17 286.00,385.50 C288.45,383.83 292.37,381.70 294.70,381.00 C297.03,380.30 298.05,381.05 300.00,381.30 C301.95,381.55 304.73,381.88 306.40,382.50 C308.07,383.12 308.95,384.18 310.00,385.00 C311.05,385.82 311.77,385.57 312.70,387.40 C313.63,389.23 314.77,393.65 315.60,396.00 C316.43,398.35 316.95,399.17 317.70,401.50 C318.45,403.83 319.05,407.42 320.10,410.00 C321.15,412.58 322.75,415.73 324.00,417.00 C325.25,418.27 325.75,416.67 327.60,417.60 C329.45,418.53 331.77,421.35 335.10,422.60 C338.43,423.85 344.25,424.05 347.60,425.10 C350.95,426.15 352.68,428.07 355.20,428.90 C357.72,429.73 359.78,429.27 362.70,430.10 C365.62,430.93 369.44,433.17 372.70,433.90 C375.96,434.63 379.07,434.30 382.25,434.50" stroke="#9a7018" stroke-width="1.8" stroke-dasharray="7.5,7.7"/>
<path d="M243.00,407.00 C246.93,403.50 251.80,399.28 254.80,396.50 C257.80,393.72 258.58,393.05 261.00,390.30 C263.42,387.55 266.80,383.22 269.30,380.00 C271.80,376.78 273.88,373.67 276.00,371.00 C278.12,368.33 280.00,365.92 282.00,364.00 C284.00,362.08 285.88,360.42 288.00,359.50 C290.12,358.58 292.82,358.57 294.70,358.50 C296.58,358.43 297.47,358.40 299.30,359.10 C301.13,359.80 303.58,361.22 305.70,362.70 C307.82,364.18 310.25,366.37 312.00,368.00 C313.75,369.63 314.53,370.83 316.20,372.50 C317.87,374.17 320.03,376.08 322.00,378.00 C323.97,379.92 326.42,382.17 328.00,384.00 C329.58,385.83 330.40,387.27 331.50,389.00 C332.60,390.73 333.68,392.40 334.60,394.40 C335.52,396.40 336.10,399.23 337.00,401.00 C337.90,402.77 339.00,403.67 340.00,405.00" stroke="#9a7018" stroke-width="1.8" stroke-dasharray="7.5,7.7"/>
<path d="M277.50,418.20 C280.27,418.90 283.72,420.25 285.80,420.30 C287.88,420.35 288.52,418.88 290.00,418.50 C291.48,418.12 292.20,418.67 294.70,418.00 C297.20,417.33 301.60,415.17 305.00,414.50 C308.40,413.83 311.73,414.17 315.10,414.00" stroke="#9a7018" stroke-width="1.8" stroke-dasharray="7.5,7.7"/>
<path d="M286.00,361.00 C287.33,361.80 288.55,362.73 290.00,363.40 C291.45,364.07 292.80,364.53 294.70,365.00 C296.60,365.47 299.45,364.95 301.40,366.20 C303.35,367.45 304.97,370.20 306.40,372.50 C307.83,374.80 308.80,377.50 310.00,380.00" stroke="#9a7018" stroke-width="1.8" stroke-dasharray="7.5,7.7"/>
<path d="M318.00,383.00 C318.83,382.80 318.78,383.08 320.50,382.40 C322.22,381.72 325.83,380.30 328.30,378.90 C330.77,377.50 332.92,375.47 335.30,374.00 C337.68,372.53 340.55,371.60 342.60,370.10 C344.65,368.60 345.08,366.47 347.60,365.00 C350.12,363.53 354.63,362.55 357.70,361.30 C360.77,360.05 363.50,357.92 366.00,357.50 C368.50,357.08 369.99,357.75 372.70,358.80 C375.41,359.85 379.07,362.13 382.25,363.80" stroke="#9a7018" stroke-width="1.8" stroke-dasharray="7.5,7.7"/>
<path d="M340.00,410.00 C341.67,406.67 343.50,403.00 345.00,400.00 C346.50,397.00 347.83,394.00 349.00,392.00 C350.17,390.00 350.55,389.17 352.00,388.00 C353.45,386.83 355.80,386.00 357.70,385.00" stroke="#9a7018" stroke-width="1.8" stroke-dasharray="7.5,7.7"/>
<path d="M312.00,426.00 C313.03,426.97 313.75,427.38 315.10,428.90 C316.45,430.42 318.78,433.08 320.10,435.10 C321.42,437.12 322.03,439.03 323.00,441.00" stroke="#9a7018" stroke-width="1.8" stroke-dasharray="7.5,7.7"/>
<path d="M350.00,441.00 C352.57,440.30 355.17,439.67 357.70,438.90 C360.23,438.13 362.82,436.97 365.20,436.40 C367.58,435.83 369.73,435.80 372.00,435.50" stroke="#9a7018" stroke-width="1.8" stroke-dasharray="7.5,7.7"/>
<path d="M294.70,245.50 C296.47,245.50 298.23,245.50 300.00,245.50" stroke="#9a7018" stroke-width="1.8" stroke-dasharray="7.5,7.7"/>
<path d="M286.00,245.50 C288.90,245.50 291.80,245.50 294.70,245.50" stroke="#9a7018" stroke-width="1.8" stroke-dasharray="7.5,7.7"/>
<path d="M50.75,298.50 C53.97,299.40 56.73,299.68 60.40,301.20 C64.08,302.72 68.67,305.17 72.80,307.60 C76.93,310.03 81.07,313.22 85.20,315.80 C89.33,318.38 93.47,321.23 97.60,323.10 C101.73,324.97 106.97,326.25 110.00,327.00 C113.03,327.75 113.73,327.63 115.80,327.60 C117.87,327.57 119.75,327.65 122.40,326.80 C125.05,325.95 128.93,324.30 131.70,322.50 C134.47,320.70 136.58,318.33 139.00,316.00 C141.42,313.67 143.78,311.25 146.20,308.50 C148.62,305.75 151.10,302.52 153.50,299.50 C155.90,296.48 158.43,293.32 160.60,290.40 C162.77,287.48 164.50,284.70 166.50,282.00 C168.50,279.30 170.10,275.15 172.60,274.20 C175.10,273.25 177.95,274.75 181.50,276.30 C185.05,277.85 190.10,280.57 193.90,283.50 C197.70,286.43 201.20,290.40 204.30,293.90 C207.40,297.40 209.05,300.33 212.50,304.50 C215.95,308.67 221.55,315.53 225.00,318.90 C228.45,322.27 231.00,323.58 233.20,324.70 C235.40,325.82 235.28,326.38 238.20,325.60 C241.12,324.82 246.55,321.45 250.70,320.00 C254.85,318.55 259.32,318.12 263.10,316.90 C266.88,315.68 270.30,314.60 273.40,312.70 C276.50,310.80 278.93,307.63 281.70,305.50 C284.47,303.37 287.83,300.93 290.00,299.90 C292.17,298.87 292.62,299.20 294.70,299.30 C296.78,299.40 299.95,299.83 302.50,300.50 C305.05,301.17 307.90,302.83 310.00,303.30 C312.10,303.77 312.58,304.27 315.10,303.30 C317.62,302.33 321.77,299.72 325.10,297.50 C328.43,295.28 332.60,291.90 335.10,290.00 C337.60,288.10 337.17,288.00 340.10,286.10 C343.03,284.20 348.52,280.60 352.70,278.60 C356.88,276.60 360.27,274.85 365.20,274.10 C370.12,273.35 376.57,274.10 382.25,274.10" stroke="#0808f0" stroke-width="1.6"/>
<path d="M50.75,319.40 C53.97,318.57 56.73,318.53 60.40,316.90 C64.08,315.27 68.67,311.50 72.80,309.60 C76.93,307.70 81.07,306.18 85.20,305.50 C89.33,304.82 93.47,305.25 97.60,305.50 C101.73,305.75 106.97,306.55 110.00,307.00 C113.03,307.45 113.73,308.45 115.80,308.20 C117.87,307.95 119.92,307.20 122.40,305.50 C124.88,303.80 128.27,300.42 130.70,298.00 C133.13,295.58 134.78,293.42 137.00,291.00 C139.22,288.58 141.83,285.75 144.00,283.50 C146.17,281.25 147.75,279.22 150.00,277.50 C152.25,275.78 155.03,274.18 157.50,273.20 C159.97,272.22 162.28,271.43 164.80,271.60 C167.32,271.77 170.00,273.33 172.60,274.20" stroke="#0808f0" stroke-width="1.6"/>
<path d="M50.75,342.80 C54.50,343.63 57.81,343.72 62.00,345.30 C66.19,346.88 71.65,349.38 75.90,352.30 C80.15,355.22 83.62,358.73 87.50,362.80 C91.38,366.87 95.70,373.03 99.20,376.70 C102.70,380.37 105.73,382.95 108.50,384.80 C111.27,386.65 112.10,386.90 115.80,387.80 C119.50,388.70 124.78,389.62 130.70,390.20 C136.62,390.78 144.32,391.12 151.30,391.30 C158.28,391.48 165.50,391.30 172.60,391.30" stroke="#0808f0" stroke-width="1.6"/>
<path d="M50.75,344.10 C53.27,348.23 56.01,352.02 58.30,356.50 C60.59,360.98 62.38,365.58 64.50,371.00 C66.62,376.42 68.92,383.67 71.00,389.00 C73.08,394.33 75.33,399.42 77.00,403.00 C78.67,406.58 79.67,408.08 81.00,410.50 C82.33,412.92 83.10,415.20 85.00,417.50 C86.90,419.80 89.90,422.55 92.40,424.30 C94.90,426.05 97.57,426.93 100.00,428.00 C102.43,429.07 104.37,430.13 107.00,430.70 C109.63,431.27 111.85,431.95 115.80,431.40 C119.75,430.85 125.47,428.77 130.70,427.40 C135.93,426.03 142.03,424.13 147.20,423.20 C152.37,422.27 157.47,421.97 161.70,421.80 C165.93,421.63 168.60,421.78 172.60,422.20 C176.60,422.62 180.77,423.43 185.70,424.30 C190.63,425.17 197.03,426.72 202.20,427.40 C207.37,428.08 211.88,428.17 216.70,428.40 C221.52,428.63 227.52,428.73 231.10,428.80 C234.68,428.87 234.93,429.08 238.20,428.80 C241.47,428.52 246.22,428.17 250.70,427.10 C255.18,426.03 260.28,424.73 265.10,422.40 C269.92,420.07 274.67,415.53 279.60,413.10 C284.53,410.67 290.47,408.30 294.70,407.80 C298.93,407.30 301.18,408.88 305.00,410.10 C308.82,411.32 313.42,413.43 317.60,415.10 C321.78,416.77 325.52,418.65 330.10,420.10 C334.68,421.55 340.08,423.18 345.10,423.80 C350.12,424.42 354.01,424.22 360.20,423.80 C366.39,423.38 374.90,422.13 382.25,421.30" stroke="#0808f0" stroke-width="1.6"/>
<path d="M50.75,371.80 C56.73,371.53 62.99,371.48 68.70,371.00 C74.41,370.52 79.78,369.57 85.00,368.90 C90.22,368.23 96.52,367.43 100.00,367.00 C103.48,366.57 103.27,366.47 105.90,366.30 C108.53,366.13 112.37,365.73 115.80,366.00 C119.23,366.27 122.65,366.38 126.50,367.90 C130.35,369.42 134.77,372.52 138.90,375.10 C143.03,377.68 147.17,380.98 151.30,383.40 C155.43,385.82 160.15,388.25 163.70,389.60 C167.25,390.95 168.93,391.50 172.60,391.50 C176.27,391.50 180.77,390.95 185.70,389.60 C190.63,388.25 197.03,385.98 202.20,383.40 C207.37,380.82 211.88,377.37 216.70,374.10 C221.52,370.83 227.52,366.03 231.10,363.80 C234.68,361.57 235.63,362.60 238.20,360.70 C240.77,358.80 244.42,354.43 246.50,352.40 C248.58,350.37 248.70,350.48 250.70,348.50 C252.70,346.52 256.78,342.33 258.50,340.50 C260.22,338.67 258.87,339.72 261.00,337.50 C263.13,335.28 267.85,329.95 271.30,327.20 C274.75,324.45 277.80,322.38 281.70,321.00 C285.60,319.62 289.98,319.47 294.70,318.90 C299.42,318.33 305.77,317.20 310.00,317.60 C314.23,318.00 316.75,320.38 320.10,321.30 C323.45,322.22 326.77,323.30 330.10,323.10 C333.43,322.90 336.33,322.70 340.10,320.10 C343.87,317.50 348.93,312.10 352.70,307.50 C356.47,302.90 359.48,296.75 362.70,292.50 C365.92,288.25 368.74,285.00 372.00,282.00 C375.26,279.00 378.83,277.00 382.25,274.50" stroke="#0808f0" stroke-width="1.6"/>
<path d="M50.75,372.80 C56.00,374.27 60.79,375.23 66.50,377.20 C72.21,379.17 79.42,382.75 85.00,384.60 C90.58,386.45 94.87,387.60 100.00,388.30 C105.13,389.00 110.68,388.42 115.80,388.80 C120.92,389.18 124.78,390.10 130.70,390.60 C136.62,391.10 144.32,391.57 151.30,391.80 C158.28,392.03 165.50,391.93 172.60,392.00" stroke="#0808f0" stroke-width="1.6"/>
<path d="M50.75,407.20 C57.60,406.73 65.59,406.28 71.30,405.80 C77.01,405.32 81.13,404.88 85.00,404.30 C88.87,403.72 91.83,403.02 94.50,402.30 C97.17,401.58 99.07,400.78 101.00,400.00 C102.93,399.22 104.43,398.38 106.10,397.60 C107.77,396.82 109.38,395.83 111.00,395.30 C112.62,394.77 113.22,394.02 115.80,394.40 C118.38,394.78 122.98,395.72 126.50,397.60 C130.02,399.48 133.45,403.50 136.90,405.70 C140.35,407.90 143.07,409.50 147.20,410.80 C151.33,412.10 157.47,412.98 161.70,413.50 C165.93,414.02 169.30,414.35 172.60,413.90 C175.90,413.45 178.28,413.20 181.50,410.80 C184.72,408.40 188.45,402.77 191.90,399.50 C195.35,396.23 199.10,393.00 202.20,391.20 C205.30,389.40 207.05,388.53 210.50,388.70 C213.95,388.87 219.12,390.92 222.90,392.20 C226.68,393.48 230.65,395.53 233.20,396.40 C235.75,397.27 236.57,398.13 238.20,397.40 C239.83,396.67 241.62,393.52 243.00,392.00 C244.38,390.48 245.25,390.13 246.50,388.30 C247.75,386.47 248.37,384.25 250.50,381.00 C252.63,377.75 255.77,373.03 259.30,368.80 C262.83,364.57 267.97,359.32 271.70,355.60 C275.43,351.88 277.87,348.68 281.70,346.50 C285.53,344.32 290.82,342.75 294.70,342.50 C298.58,342.25 301.60,343.33 305.00,345.00 C308.40,346.67 311.33,349.15 315.10,352.50 C318.87,355.85 323.43,360.92 327.60,365.10 C331.77,369.28 335.50,373.85 340.10,377.60 C344.70,381.35 350.18,385.30 355.20,387.60 C360.22,389.90 365.69,390.65 370.20,391.40 C374.71,392.15 378.23,391.87 382.25,392.10" stroke="#0808f0" stroke-width="1.6"/>
<path d="M50.75,423.30 C56.73,423.03 63.61,423.10 68.70,422.50 C73.79,421.90 77.35,421.08 81.30,419.70 C85.25,418.32 89.28,416.05 92.40,414.20 C95.52,412.35 97.40,410.38 100.00,408.60 C102.60,406.82 105.37,404.93 108.00,403.50 C110.63,402.07 112.72,400.17 115.80,400.00 C118.88,399.83 122.98,401.22 126.50,402.50 C130.02,403.78 133.45,406.13 136.90,407.70 C140.35,409.27 143.07,410.88 147.20,411.90 C151.33,412.92 157.47,413.42 161.70,413.80 C165.93,414.18 168.97,414.07 172.60,414.20" stroke="#0808f0" stroke-width="1.6"/>
<path d="M50.75,439.20 C56.73,439.33 63.83,439.13 68.70,439.60 C73.58,440.07 76.23,441.20 80.00,442.00" stroke="#0808f0" stroke-width="1.6"/>
<path d="M103.00,236.00 C103.97,237.23 104.73,238.23 105.90,239.70 C107.07,241.17 108.35,243.35 110.00,244.80 C111.65,246.25 113.73,248.15 115.80,248.40 C117.87,248.65 120.37,247.17 122.40,246.30 C124.43,245.43 126.62,244.30 128.00,243.20 C129.38,242.10 129.87,240.90 130.70,239.70 C131.53,238.50 132.23,237.23 133.00,236.00" stroke="#0808f0" stroke-width="1.6"/>
<path d="M50.75,240.90 C52.17,240.80 53.46,241.25 55.00,240.60 C56.54,239.95 58.33,238.20 60.00,237.00" stroke="#0808f0" stroke-width="1.6"/>
<path d="M288.00,237.00 C290.23,238.23 292.53,240.70 294.70,240.70 C296.87,240.70 298.90,238.23 301.00,237.00" stroke="#0808f0" stroke-width="1.6"/>
<path d="M238.20,325.60 C240.97,327.50 243.05,328.80 246.50,331.30 C249.95,333.80 255.45,337.50 258.90,340.60 C262.35,343.70 265.07,347.53 267.20,349.90 C269.33,352.27 269.40,352.68 271.70,354.80 C274.00,356.92 277.17,359.88 281.00,362.60 C284.83,365.32 289.87,370.68 294.70,371.10 C299.53,371.52 304.93,366.43 310.00,365.10 C315.07,363.77 320.92,362.90 325.10,363.10 C329.28,363.30 331.35,363.88 335.10,366.30 C338.85,368.72 343.42,374.05 347.60,377.60 C351.78,381.15 356.02,385.30 360.20,387.60 C364.38,389.90 369.02,390.65 372.70,391.40 C376.38,392.15 379.07,391.87 382.25,392.10" stroke="#0808f0" stroke-width="1.6"/>
<path d="M238.20,360.70 C240.97,362.07 243.38,362.92 246.50,364.80 C249.62,366.68 254.25,370.30 256.90,372.00 C259.55,373.70 259.67,374.25 262.40,375.00 C265.13,375.75 269.42,376.90 273.30,376.50 C277.18,376.10 282.13,373.50 285.70,372.60 C289.27,371.70 291.48,370.68 294.70,371.10 C297.92,371.52 300.77,373.18 305.00,375.10 C309.23,377.02 314.25,380.30 320.10,382.60 C325.95,384.90 333.42,387.43 340.10,388.90 C346.78,390.37 353.18,390.87 360.20,391.40 C367.22,391.93 374.90,391.87 382.25,392.10" stroke="#0808f0" stroke-width="1.6"/>
<path d="M238.20,397.40 C239.60,398.83 240.32,400.12 242.40,401.70 C244.48,403.28 247.95,405.87 250.70,406.90 C253.45,407.93 256.50,408.60 258.90,407.90 C261.30,407.20 263.03,405.63 265.10,402.70 C267.17,399.77 269.75,394.08 271.30,390.30 C272.85,386.52 273.37,383.55 274.40,380.00 C275.43,376.45 276.28,372.42 277.50,369.00 C278.72,365.58 279.97,362.95 281.70,359.50 C283.43,356.05 285.73,351.00 287.90,348.30 C290.07,345.60 292.27,343.43 294.70,343.30 C297.13,343.17 299.95,344.72 302.50,347.50 C305.05,350.28 307.90,355.82 310.00,360.00 C312.10,364.18 313.77,368.77 315.10,372.60 C316.43,376.43 317.02,379.60 318.00,383.00 C318.98,386.40 319.40,389.33 321.00,393.00 C322.60,396.67 325.45,402.25 327.60,405.00 C329.75,407.75 331.40,409.28 333.90,409.50 C336.40,409.72 339.47,407.88 342.60,406.30 C345.73,404.72 349.35,400.63 352.70,400.00 C356.05,399.37 359.37,401.45 362.70,402.50 C366.03,403.55 369.44,405.45 372.70,406.30 C375.96,407.15 379.07,407.17 382.25,407.60" stroke="#0808f0" stroke-width="1.6"/>
<path d="M255.00,423.00 C257.00,422.80 258.28,422.50 261.00,422.40 C263.72,422.30 265.68,422.25 271.30,422.40 C276.92,422.55 287.40,423.68 294.70,423.30 C302.00,422.92 309.62,421.05 315.10,420.10 C320.58,419.15 323.43,417.40 327.60,417.60 C331.77,417.80 335.50,420.05 340.10,421.30 C344.70,422.55 350.18,424.68 355.20,425.10 C360.22,425.52 365.69,424.30 370.20,423.80 C374.71,423.30 378.23,422.67 382.25,422.10" stroke="#0808f0" stroke-width="1.6"/>
<path d="M270.00,444.00 C273.20,442.87 275.48,441.37 279.60,440.60 C283.72,439.83 288.78,439.57 294.70,439.40 C300.62,439.23 309.22,439.17 315.10,439.60 C320.98,440.03 325.03,441.20 330.00,442.00" stroke="#0808f0" stroke-width="1.6"/>
<path d="M330.10,385.00 C335.93,386.67 341.75,388.95 347.60,390.00 C353.45,391.05 359.43,391.08 365.20,391.30 C370.97,391.52 376.57,391.30 382.25,391.30" stroke="#0808f0" stroke-width="1.6"/>
</g>
<rect x="50.75" y="8.25" width="331.50" height="202.15" fill="none" stroke="#000" stroke-width="1.5"/>
<rect x="50.75" y="240.35" width="331.50" height="200.45" fill="none" stroke="#000" stroke-width="1.5"/>
<text transform="translate(58.40,45.60) scale(0.855,1)" text-anchor="start" fill="#000" stroke="#000" stroke-width="0.3" font-size="17">(a)</text>
<text transform="translate(58.40,278.40) scale(0.855,1)" text-anchor="start" fill="#000" stroke="#000" stroke-width="0.3" font-size="17">(b)</text>
<text transform="translate(337.40,103.80) scale(0.855,1)" text-anchor="start" fill="#8a6426" stroke="#8a6426" stroke-width="0.3" font-size="17">PDB-h</text>
<text transform="translate(337.00,126.00) scale(0.84,1)" text-anchor="start" fill="#0808f0" stroke="#0808f0" stroke-width="0.3" font-size="17">ODB-h</text>
<text transform="translate(334.30,335.20) scale(0.855,1)" text-anchor="start" fill="#8a6426" stroke="#8a6426" stroke-width="0.3" font-size="17">PDB-z</text>
<text transform="translate(332.50,357.50) scale(0.84,1)" text-anchor="start" fill="#0808f0" stroke="#0808f0" stroke-width="0.3" font-size="17">ODB-z</text>
<text transform="translate(13.2,105.7) rotate(-90) scale(0.9,1)" text-anchor="middle" font-size="16" stroke="#000" stroke-width="0.25">Energy (eV)</text>
<text transform="translate(13.2,337.5) rotate(-90) scale(0.9,1)" text-anchor="middle" font-size="16" stroke="#000" stroke-width="0.25">Energy (eV)</text>
</svg></body></html>
